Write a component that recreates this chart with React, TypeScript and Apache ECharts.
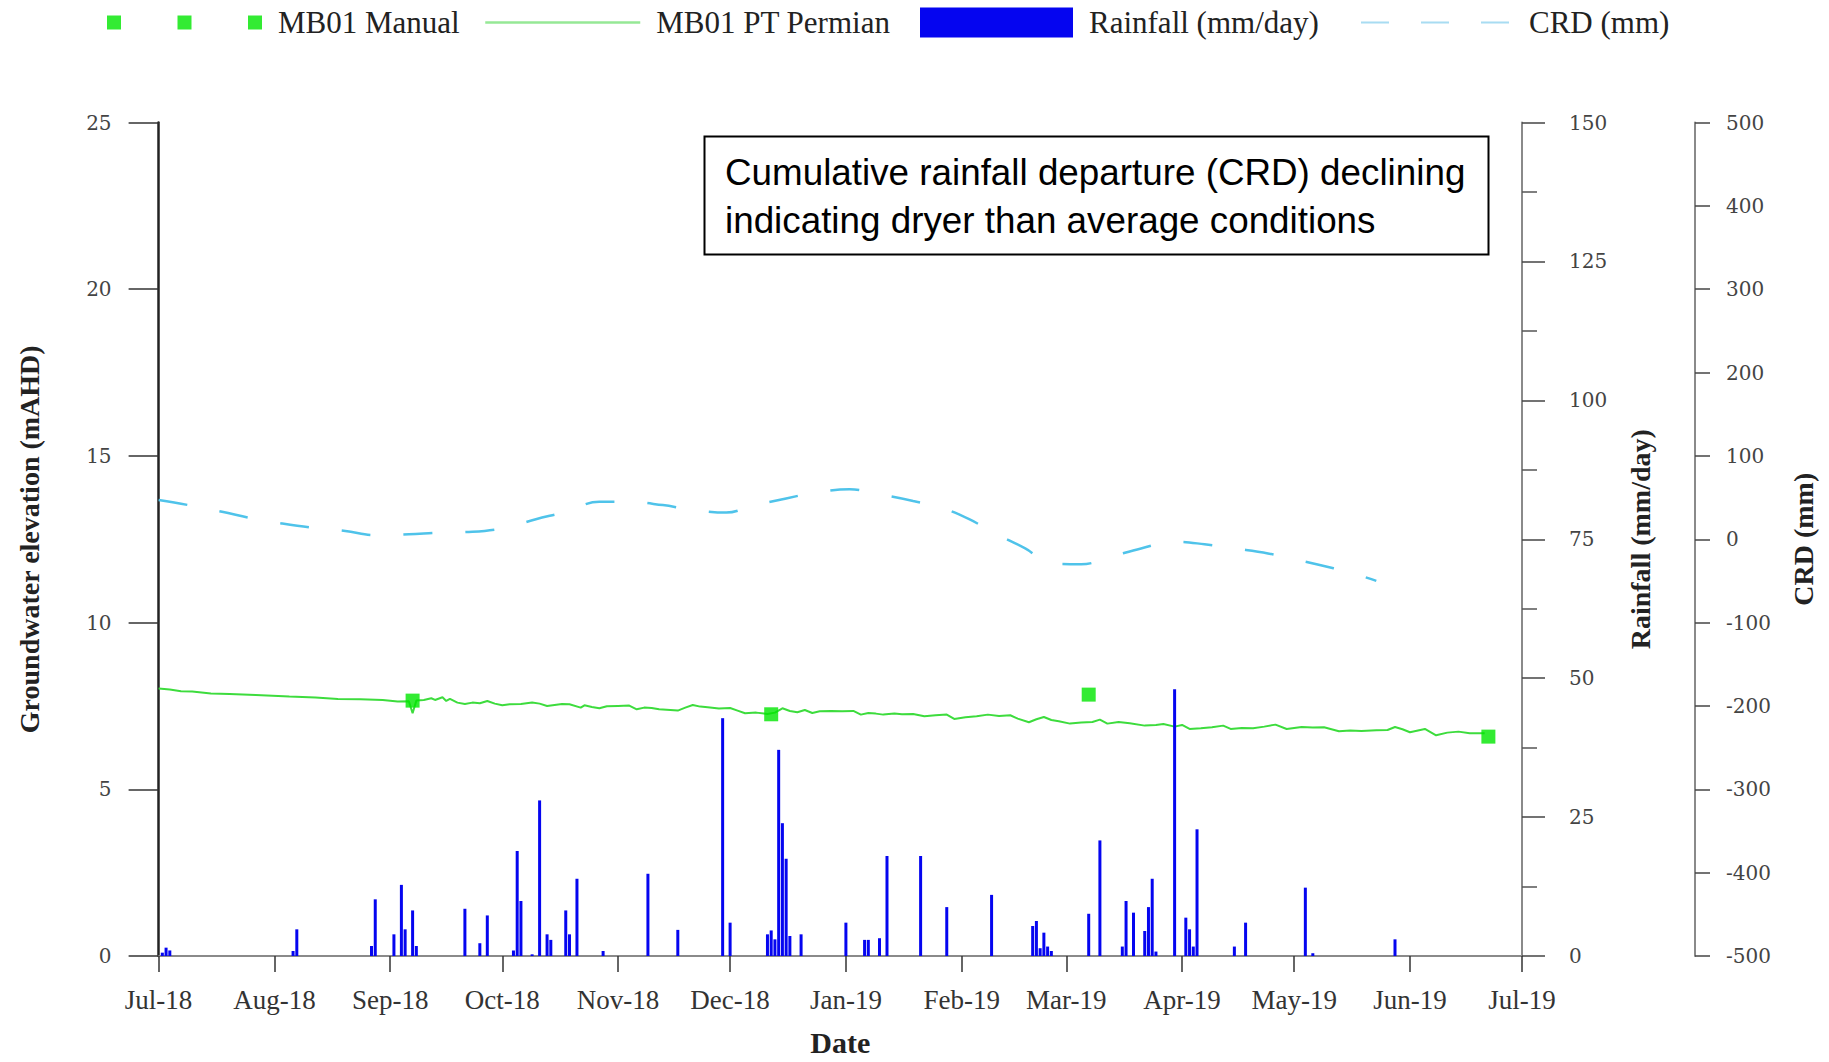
import React, { useEffect, useRef } from 'react';
import * as echarts from 'echarts';

// ---------- data ----------
const monthTicks = ['2018-07-01', '2018-08-01', '2018-09-01', '2018-10-01', '2018-11-01', '2018-12-01', '2019-01-01', '2019-02-01', '2019-03-01', '2019-04-01', '2019-05-01', '2019-06-01', '2019-07-01'];
const monthLabels = ['Jul-18', 'Aug-18', 'Sep-18', 'Oct-18', 'Nov-18', 'Dec-18', 'Jan-19', 'Feb-19', 'Mar-19', 'Apr-19', 'May-19', 'Jun-19', 'Jul-19'];

const manualPoints: [string, number][] = [
  ['2018-09-07', 7.66], ['2018-12-12', 7.25], ['2019-03-07', 7.84], ['2019-06-22', 6.58],
];

const ptPermian: [string, number][] = [
  ['2018-07-01', 8.02], ['2018-07-04', 7.99], ['2018-07-07', 7.94], ['2018-07-10', 7.93], ['2018-07-15', 7.87], ['2018-07-20', 7.86], ['2018-07-27', 7.83],
  ['2018-08-05', 7.78], ['2018-08-12', 7.75], ['2018-08-18', 7.71], ['2018-08-24', 7.70], ['2018-08-30', 7.68],
  ['2018-09-03', 7.63], ['2018-09-06', 7.64], ['2018-09-07', 7.28], ['2018-09-08', 7.66], ['2018-09-10', 7.68], ['2018-09-12', 7.73], ['2018-09-13', 7.68], ['2018-09-15', 7.76], ['2018-09-16', 7.65], ['2018-09-17', 7.71], ['2018-09-19', 7.60], ['2018-09-21', 7.56], ['2018-09-23', 7.60], ['2018-09-25', 7.58], ['2018-09-27', 7.65], ['2018-09-29', 7.57],
  ['2018-10-01', 7.52], ['2018-10-03', 7.55], ['2018-10-06', 7.56], ['2018-10-09', 7.60], ['2018-10-11', 7.57], ['2018-10-13', 7.50], ['2018-10-15', 7.53], ['2018-10-17', 7.56], ['2018-10-19', 7.55], ['2018-10-22', 7.45], ['2018-10-23', 7.52], ['2018-10-25', 7.47], ['2018-10-27', 7.43], ['2018-10-29', 7.49],
  ['2018-11-01', 7.50], ['2018-11-04', 7.51], ['2018-11-06', 7.40], ['2018-11-08', 7.45], ['2018-11-10', 7.44], ['2018-11-12', 7.40], ['2018-11-15', 7.38], ['2018-11-17', 7.36], ['2018-11-19', 7.45], ['2018-11-21', 7.53], ['2018-11-23', 7.48], ['2018-11-25', 7.46], ['2018-11-28', 7.42],
  ['2018-12-01', 7.44], ['2018-12-03', 7.36], ['2018-12-05', 7.28], ['2018-12-08', 7.30], ['2018-12-11', 7.26], ['2018-12-13', 7.30], ['2018-12-15', 7.43], ['2018-12-17', 7.35], ['2018-12-19', 7.31], ['2018-12-21', 7.38], ['2018-12-23', 7.29], ['2018-12-25', 7.34], ['2018-12-28', 7.35], ['2018-12-31', 7.34],
  ['2019-01-03', 7.35], ['2019-01-05', 7.24], ['2019-01-07', 7.29], ['2019-01-09', 7.27], ['2019-01-11', 7.24], ['2019-01-14', 7.27], ['2019-01-16', 7.25], ['2019-01-19', 7.26], ['2019-01-22', 7.19], ['2019-01-25', 7.22], ['2019-01-28', 7.24], ['2019-01-30', 7.11],
  ['2019-02-02', 7.16], ['2019-02-05', 7.19], ['2019-02-08', 7.24], ['2019-02-11', 7.20], ['2019-02-14', 7.22], ['2019-02-16', 7.12], ['2019-02-19', 7.01], ['2019-02-21', 7.10], ['2019-02-23', 7.17], ['2019-02-25', 7.08], ['2019-02-27', 7.04],
  ['2019-03-02', 6.97], ['2019-03-05', 7.00], ['2019-03-08', 7.02], ['2019-03-10', 7.09], ['2019-03-12', 6.97], ['2019-03-15', 7.02], ['2019-03-18', 6.98], ['2019-03-22', 6.91], ['2019-03-25', 6.93], ['2019-03-27', 6.96], ['2019-03-30', 6.88],
  ['2019-04-01', 6.93], ['2019-04-03', 6.81], ['2019-04-06', 6.83], ['2019-04-09', 6.86], ['2019-04-12', 6.91], ['2019-04-14', 6.81], ['2019-04-17', 6.84], ['2019-04-20', 6.83], ['2019-04-23', 6.88], ['2019-04-26', 6.94], ['2019-04-29', 6.81],
  ['2019-05-03', 6.87], ['2019-05-06', 6.85], ['2019-05-09', 6.86], ['2019-05-13', 6.74], ['2019-05-16', 6.76], ['2019-05-19', 6.75], ['2019-05-23', 6.77], ['2019-05-26', 6.78], ['2019-05-28', 6.87], ['2019-05-30', 6.80],
  ['2019-06-01', 6.71], ['2019-06-05', 6.81], ['2019-06-08', 6.62], ['2019-06-11', 6.70], ['2019-06-14', 6.73], ['2019-06-17', 6.68], ['2019-06-21', 6.68],
];

const rainfall: [string, number][] = [
  ['2018-07-02', 0.6], ['2018-07-03', 1.5], ['2018-07-04', 1.0],
  ['2018-08-06', 0.9], ['2018-08-07', 4.8],
  ['2018-08-27', 1.8], ['2018-08-28', 10.2],
  ['2018-09-02', 3.9], ['2018-09-04', 12.8], ['2018-09-05', 4.8], ['2018-09-07', 8.2], ['2018-09-08', 1.8],
  ['2018-09-21', 8.5], ['2018-09-25', 2.3], ['2018-09-27', 7.3],
  ['2018-10-04', 1.0], ['2018-10-05', 18.9], ['2018-10-06', 9.9], ['2018-10-09', 0.3], ['2018-10-11', 28.0],
  ['2018-10-13', 3.9], ['2018-10-14', 2.9], ['2018-10-18', 8.2], ['2018-10-19', 3.9], ['2018-10-21', 13.9], ['2018-10-28', 0.9],
  ['2018-11-09', 14.8], ['2018-11-17', 4.7], ['2018-11-29', 42.8],
  ['2018-12-01', 6.0], ['2018-12-11', 3.9], ['2018-12-12', 4.6], ['2018-12-13', 3.0], ['2018-12-14', 37.1], ['2018-12-15', 23.9], ['2018-12-16', 17.5], ['2018-12-17', 3.6], ['2018-12-20', 3.9],
  ['2019-01-01', 6.0], ['2019-01-06', 2.9], ['2019-01-07', 2.9], ['2019-01-10', 3.2], ['2019-01-12', 18.0], ['2019-01-21', 18.0], ['2019-01-28', 8.8],
  ['2019-02-09', 11.0], ['2019-02-20', 5.4], ['2019-02-21', 6.3], ['2019-02-22', 1.4], ['2019-02-23', 4.2], ['2019-02-24', 1.7], ['2019-02-25', 0.9],
  ['2019-03-07', 7.6], ['2019-03-10', 20.8], ['2019-03-16', 1.7], ['2019-03-17', 9.9], ['2019-03-19', 7.8],
  ['2019-03-22', 4.5], ['2019-03-23', 8.8], ['2019-03-24', 13.9], ['2019-03-25', 0.8], ['2019-03-30', 48.0],
  ['2019-04-02', 6.9], ['2019-04-03', 4.8], ['2019-04-04', 1.7], ['2019-04-05', 22.8], ['2019-04-15', 1.7], ['2019-04-18', 6.0],
  ['2019-05-04', 12.3], ['2019-05-06', 0.5], ['2019-05-28', 3.0],
];

const crd: [string, number][] = [
  ['2018-07-01', 47], ['2018-07-09', 41], ['2018-07-18', 33], ['2018-07-26', 25], ['2018-08-03', 19], ['2018-08-11', 14], ['2018-08-20', 10], ['2018-08-28', 5],
  ['2018-09-06', 6], ['2018-09-14', 8], ['2018-09-23', 9], ['2018-10-02', 14], ['2018-10-10', 24], ['2018-10-18', 33], ['2018-10-27', 45],
  ['2018-11-03', 45], ['2018-11-13', 41], ['2018-11-20', 36], ['2018-11-30', 32], ['2018-12-07', 40], ['2018-12-16', 49], ['2018-12-24', 56],
  ['2019-01-02', 60], ['2019-01-10', 54], ['2019-01-19', 46], ['2019-01-27', 37], ['2019-02-03', 24], ['2019-02-10', 7], ['2019-02-18', -11], ['2019-02-25', -29],
  ['2019-03-05', -30], ['2019-03-13', -21], ['2019-03-21', -11], ['2019-03-30', -3], ['2019-04-07', -6], ['2019-04-15', -11], ['2019-04-24', -17],
  ['2019-05-07', -30], ['2019-05-16', -40], ['2019-05-23', -50],
];

const annotationLines = ['Cumulative rainfall departure (CRD) declining', 'indicating dryer than average conditions'];

// ---------- helpers ----------
const ts = (s: string) => {
  const [y, m, d] = s.split('-').map(Number);
  return new Date(y, m - 1, d).getTime();
};
const monthTs = monthTicks.map(ts);
const labelFor = (v: number) => {
  let best = 0;
  for (let i = 1; i < monthTs.length; i++) {
    if (Math.abs(monthTs[i] - v) < Math.abs(monthTs[best] - v)) best = i;
  }
  return monthLabels[best];
};
const toSeries = (arr: [string, number][]) => arr.map(([d, v]) => [ts(d), v]);

const serif = 'Liberation Serif';
const tickFont = 'DejaVu Serif';

const legendText = { fontFamily: serif, fontSize: 31, color: '#222', padding: [0, 0, 0, 11] };

export default function App() {
  const ref = useRef<HTMLDivElement>(null);
  useEffect(() => {
    if (!ref.current) return;
    const chart = echarts.init(ref.current, null, { renderer: 'svg' });
    const option: any = {
      animation: false,
      backgroundColor: '#fff',
      textStyle: { fontFamily: serif },
      grid: { left: 158.6, right: 307, top: 122.5, bottom: 101, containLabel: false },
      legend: [
        {
          left: 107, top: 7, padding: 0, itemWidth: 155, itemHeight: 14, selectedMode: false,
          textStyle: legendText,
          data: [{ name: 'MB01 Manual', icon: 'path://M0,0h14v14h-14z M70.5,0h14v14h-14z M141,0h14v14h-14z', itemStyle: { color: '#00e600' } }],
        },
        {
          left: 484, top: 7, padding: 0, itemWidth: 155, itemHeight: 14, selectedMode: false,
          textStyle: legendText,
          data: [{ name: 'MB01 PT Permian', itemStyle: { opacity: 0 }, lineStyle: { color: '#96e896', width: 2.5 } }],
        },
        {
          left: 920, top: 7, padding: 0, itemWidth: 153, itemHeight: 30, selectedMode: false,
          textStyle: legendText,
          data: [{ name: 'Rainfall (mm/day)', icon: 'rect', itemStyle: { color: '#0505f0' } }],
        },
        {
          left: 1360, top: 7, padding: 0, itemWidth: 152, itemHeight: 14, selectedMode: false,
          textStyle: legendText,
          data: [{ name: 'CRD (mm)', itemStyle: { opacity: 0 }, lineStyle: { color: '#a8dcf2', width: 2, type: [28, 32] } }],
        },
      ],
      xAxis: {
        type: 'value',
        min: monthTs[0],
        max: monthTs[monthTs.length - 1],
        axisLine: { show: true, onZero: false, lineStyle: { color: '#8a8a8a', width: 2 } },
        axisTick: { show: true, length: 16, customValues: monthTs, lineStyle: { color: '#333', width: 1.5 } },
        axisLabel: {
          customValues: monthTs,
          hideOverlap: false,
          formatter: (v: number) => labelFor(v),
          fontFamily: serif, fontSize: 27, color: '#333', margin: 30,
        },
        splitLine: { show: false },
        name: 'Date', nameLocation: 'middle', nameGap: 71,
        nameTextStyle: { fontFamily: serif, fontWeight: 'bold', fontSize: 30, color: '#222' },
      },
      yAxis: [
        {
          type: 'value', position: 'left', min: 0, max: 25, interval: 5,
          axisLine: { show: true, lineStyle: { color: '#222', width: 2.5 } },
          axisTick: { show: true, length: 30, lineStyle: { color: '#333', width: 1.5 } },
          axisLabel: { margin: 47, fontFamily: tickFont, fontSize: 20, color: '#444' },
          splitLine: { show: false },
          name: 'Groundwater elevation (mAHD)', nameLocation: 'middle', nameGap: 115, nameRotate: 90,
          nameTextStyle: { fontFamily: serif, fontWeight: 'bold', fontSize: 28, color: '#222' },
        },
        {
          type: 'value', position: 'right', min: 0, max: 150, interval: 25,
          axisLine: { show: true, lineStyle: { color: '#8a8a8a', width: 2 } },
          axisTick: { show: true, length: 23, lineStyle: { color: '#444', width: 1.5 } },
          minorTick: { show: true, splitNumber: 2, length: 15, lineStyle: { color: '#555', width: 1.5 } },
          axisLabel: { margin: 47, fontFamily: tickFont, fontSize: 20, color: '#444' },
          splitLine: { show: false },
          minorSplitLine: { show: false },
          name: 'Rainfall (mm/day)', nameLocation: 'middle', nameGap: 104, nameRotate: 90,
          nameTextStyle: { fontFamily: serif, fontWeight: 'bold', fontSize: 28, color: '#222' },
        },
        {
          type: 'value', position: 'right', offset: 173, min: -500, max: 500, interval: 100,
          axisLine: { show: true, lineStyle: { color: '#8a8a8a', width: 2 } },
          axisTick: { show: true, length: 15, lineStyle: { color: '#444', width: 1.5 } },
          axisLabel: { margin: 31, fontFamily: tickFont, fontSize: 20, color: '#444' },
          splitLine: { show: false },
          name: 'CRD (mm)', nameLocation: 'middle', nameGap: 94, nameRotate: 90,
          nameTextStyle: { fontFamily: serif, fontWeight: 'bold', fontSize: 28, color: '#222' },
        },
      ],
      series: [
        {
          name: 'MB01 PT Permian', type: 'line', yAxisIndex: 0, data: toSeries(ptPermian),
          symbol: 'none', showSymbol: false, z: 2,
          lineStyle: { color: '#3ddc3d', width: 2 }, itemStyle: { color: '#3ddc3d' },
        },
        {
          name: 'CRD (mm)', type: 'line', yAxisIndex: 2, data: toSeries(crd),
          symbol: 'none', showSymbol: false, smooth: 0.4, z: 2,
          lineStyle: { color: '#4fc3ea', width: 2.5, type: [29, 33] }, itemStyle: { color: '#4fc3ea' },
        },
        {
          name: 'Rainfall (mm/day)', type: 'bar', yAxisIndex: 1, data: toSeries(rainfall),
          barWidth: 3, z: 3, itemStyle: { color: '#0505f0' },
        },
        {
          name: 'MB01 Manual', type: 'scatter', yAxisIndex: 0, data: toSeries(manualPoints),
          symbol: 'rect', symbolSize: 14, z: 4, itemStyle: { color: '#00e600' },
        },
      ],
      graphic: [
        {
          type: 'rect', z: 10,
          shape: { x: 704.5, y: 136.5, width: 784, height: 118 },
          style: { fill: '#fff', stroke: '#000', lineWidth: 2 },
        },
        {
          type: 'text', z: 11, x: 725, y: 172,
          style: { text: annotationLines[0], fontFamily: 'Liberation Sans', fontSize: 36.8, fill: '#000', verticalAlign: 'middle' },
        },
        {
          type: 'text', z: 11, x: 725, y: 220,
          style: { text: annotationLines[1], fontFamily: 'Liberation Sans', fontSize: 36.8, fill: '#000', verticalAlign: 'middle' },
        },
      ],
    };
    chart.setOption(option);
    return () => chart.dispose();
  }, []);
  return (
    <div
      ref={ref}
      style={{ position: 'absolute', left: 0, top: 0, width: 1829, height: 1062, background: '#fff' }}
    />
  );
}
